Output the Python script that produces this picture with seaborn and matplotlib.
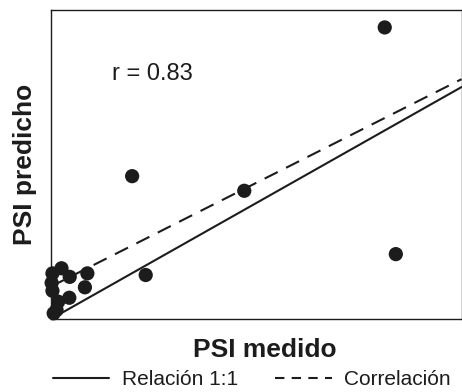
import matplotlib
matplotlib.use("Agg")
import matplotlib.pyplot as plt
from matplotlib.lines import Line2D
import seaborn as sns
import pandas as pd
import numpy as np

# Data (arbitrary units)
psi_medido = [81.3, 19.8, 47.1, 23.1, 84.0, 2.6, 8.9, 4.6, 0.4, 0.2, 8.3, 0.4, 4.5, 1.8, 1.4, 0.7]
psi_predicho = [125.7, 61.6, 55.3, 19.0, 28.0, 21.9, 19.7, 18.2, 19.7, 15.6, 13.7, 12.2, 9.2, 7.5, 3.9, 2.5]
line_x = [0, 100]
fit_slope = 0.894
fit_intercept = 14.0
r_text = "r = 0.83"
labels = ["Relación 1:1", "Correlación"]

sns.set_theme(style="white")
plt.rcParams["font.family"] = ["Liberation Sans", "DejaVu Sans"]

ink = "#1c1c1c"
fig = plt.figure(figsize=(4.62, 3.92), dpi=100)
ax = fig.add_axes([0.110, 0.186, 0.889, 0.789])

df = pd.DataFrame({"x": psi_medido, "y": psi_predicho})
one = pd.DataFrame({"x": line_x, "y": line_x})
fit = pd.DataFrame({"x": line_x, "y": [fit_intercept + fit_slope * v for v in line_x]})

sns.lineplot(data=one, x="x", y="y", ax=ax, color=ink, lw=1.5, zorder=2)
sns.lineplot(data=fit, x="x", y="y", ax=ax, color=ink, lw=1.5, zorder=2)
ax.lines[-1].set_dashes((7, 4.5))
sns.scatterplot(data=df, x="x", y="y", ax=ax, color=ink, s=105, edgecolor="none", zorder=3, clip_on=False)

ax.set_xlim(0, 100)
ax.set_ylim(0, 133.3)
ax.set_xticks([])
ax.set_yticks([])
for sp in ax.spines.values():
    sp.set_color(ink)
    sp.set_linewidth(1.0)

ax.text(0.149, 0.773, r_text, transform=ax.transAxes, fontsize=17, color=ink, va="baseline", ha="left")
ax.set_xlabel("PSI medido", fontsize=19, fontweight="bold", color=ink, labelpad=12)
ax.xaxis.set_label_coords(0.522, -0.06, transform=ax.transAxes)
ax.xaxis.label.set_va("top")
ax.set_ylabel("PSI predicho", fontsize=19, fontweight="bold", color=ink, labelpad=10)

handles = [Line2D([], [], color=ink, lw=1.5),
           Line2D([], [], color=ink, lw=1.5, dashes=(4.5, 3.5))]
fig.legend(handles, labels, loc="lower center", bbox_to_anchor=(0.545, -0.04), ncol=2,
           frameon=False, fontsize=15, handlelength=2.7, columnspacing=1.8, handletextpad=0.6,
           labelcolor=ink)

fig.savefig("out.png", dpi=100)
